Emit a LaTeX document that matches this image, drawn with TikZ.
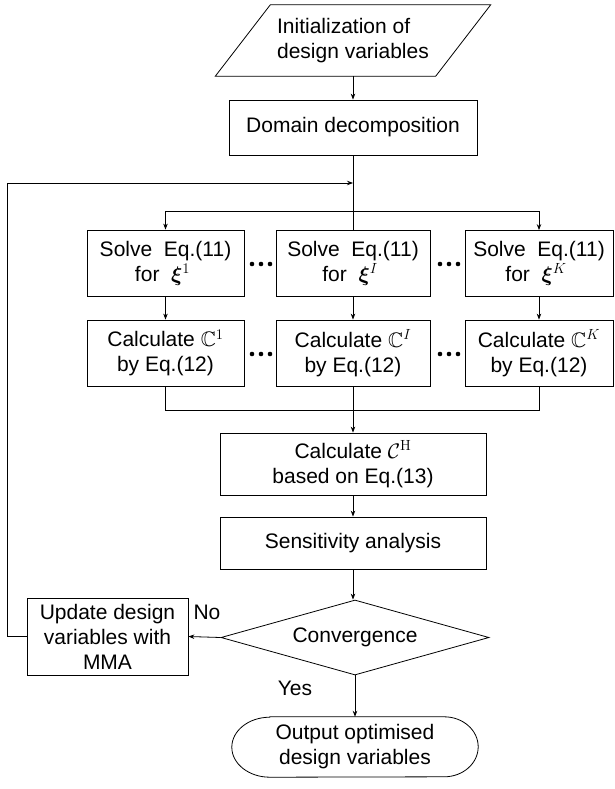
\documentclass[tikz,border=0pt]{standalone}
\usepackage{fix-cm}
\usepackage{amsmath,amssymb,bm}
\usepackage[no-math]{fontspec}
\setmainfont{Liberation Sans}
\usetikzlibrary{arrows.meta,shapes.geometric}
\begin{document}
\begin{tikzpicture}[x=1pt,y=-1pt,
  every node/.style={font=\fontsize{21pt}{25pt}\selectfont, inner sep=0pt},
  procbox/.style={draw, line width=0.8pt, rectangle, align=center},
  arrowline/.style={line width=0.8pt, -{Stealth[length=6pt,width=4.5pt]}},
  plainline/.style={line width=0.8pt},
  dotmark/.style={fill=black}]
\useasboundingbox (0,0) rectangle (615,789);

% start (parallelogram)
\node[minimum width=220pt, minimum height=71pt, align=left] (init) at (353,40.5) {Initialization of\\design variables};
\draw[plainline] ([xshift=-27.5pt]init.south west) -- ([xshift=27.5pt]init.north west)
  -- ([xshift=27.5pt]init.north east) -- ([xshift=-27.5pt]init.south east) -- cycle;

\node[procbox, minimum width=248pt, minimum height=55pt] (dd) at (353,127.5) {Domain decomposition};

\coordinate (join) at (353,183);
\coordinate (split) at (353,211);
\coordinate (merge) at (353,410);

% solve boxes
\node[procbox, minimum width=157pt, minimum height=66pt] (s1) at (165.5,263) {Solve\ \ Eq.(11)\\for\ \ $\bm{\xi}^{1}$\ \ };
\node[procbox, minimum width=154pt, minimum height=66pt] (s2) at (353,263) {Solve\ \ Eq.(11)\\for\ \ $\bm{\xi}^{I}$\ \ };
\node[procbox, minimum width=148pt, minimum height=66pt] (s3) at (539,263.5) {Solve\ \ Eq.(11)\\for\ \ $\bm{\xi}^{K}$\ \ };

% calculate boxes
\node[procbox, minimum width=157pt, minimum height=66pt] (c1) at (165.5,353) {Calculate $\mathbb{C}^{1}$\\by Eq.(12)};
\node[procbox, minimum width=154pt, minimum height=66pt] (c2) at (353,353) {Calculate $\mathbb{C}^{I}$\\by Eq.(12)};
\node[procbox, minimum width=148pt, minimum height=66pt] (c3) at (539,353) {Calculate $\mathbb{C}^{K}$\\by Eq.(12)};

% dots
\foreach \xx in {252,261,270} {\fill[dotmark] (\xx,264) circle[radius=2.3pt]; \fill[dotmark] (\xx,354) circle[radius=2.3pt];}
\foreach \xx in {440,449,458} {\fill[dotmark] (\xx,264) circle[radius=2.3pt]; \fill[dotmark] (\xx,354) circle[radius=2.3pt];}

\node[procbox, minimum width=266pt, minimum height=62pt] (ch) at (353,464) {Calculate $\mathcal{C}^{\mathrm{H}}$\\based on Eq.(13)};
\node[procbox, minimum width=266pt, minimum height=52pt] (sa) at (353,543) {Sensitivity analysis};

\node[draw, line width=0.8pt, diamond, aspect=3.57, minimum width=268pt, minimum height=75pt] (conv) at (355,637.5) {Convergence};

\node[procbox, minimum width=161pt, minimum height=77pt] (upd) at (107.5,636.5) {Update design\\variables with\\MMA};

% terminal
\node[minimum width=246pt, minimum height=60pt, align=center] (out) at (355,747) {Output optimised\\design variables};
\draw[plainline] ([xshift=38pt]out.north west) -- ([xshift=-34pt]out.north east)
  arc[start angle=90, end angle=-90, x radius=34pt, y radius=30pt]
  -- ([xshift=38pt]out.south west)
  arc[start angle=270, end angle=90, x radius=38pt, y radius=30pt] -- cycle;

\node (no) at (207,612) {No};
\node (yes) at (295,688) {Yes};

% connectors
\draw[arrowline] (init.south) -- (dd.north);
\draw[plainline] (dd.south) -- (s2.north);
\draw[plainline] (split -| s1) -- (split -| s3);
\draw[arrowline] (split -| s1) -- (s1.north);
\draw[arrowline] (split -| s3) -- (s3.north);
\draw[arrowline] (s1.south) -- (c1.north);
\draw[arrowline] (s2.south) -- (c2.north);
\draw[arrowline] (s3.south) -- (c3.north);
\draw[plainline] (c1.south) -- (merge -| c1) -- (merge -| c3) -- (c3.south);
\draw[arrowline] (c2.south) -- (ch.north);
\draw[arrowline] (ch.south) -- (sa.north);
\draw[arrowline] (sa.south) -- (sa.south |- conv.north);
\draw[arrowline] (conv.west) -- (upd.east);
\draw[arrowline] (conv.south) -- (out.north);
\draw[arrowline] (upd.west) -- ++(-19,0) |- (join);
\end{tikzpicture}
\end{document}
